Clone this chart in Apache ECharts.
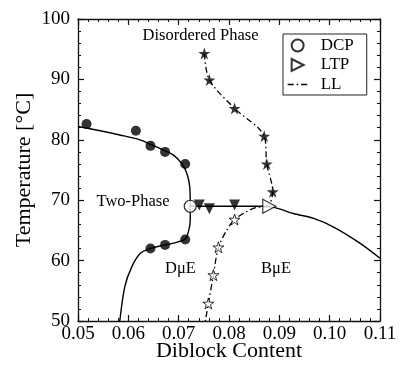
<!DOCTYPE html>
<html><head><meta charset="utf-8">
<script src="https://cdn.jsdelivr.net/npm/echarts@6.0.0/dist/echarts.min.js"></script>
<style>html,body{margin:0;padding:0;background:#fff}#c{width:400px;height:367px}</style>
</head><body><div id="c"></div>
<script>
// ---- data ----
const xTickLabels = ['0.05','0.06','0.07','0.08','0.09','0.10','0.11'];
const yTickLabels = ['50','60','70','80','90','100'];

const circleX = [0.0517, 0.0615, 0.0644, 0.0673, 0.0713, 0.0644, 0.0673, 0.0713];
const circleY = [82.6, 81.5, 79.0, 78.0, 76.0, 62.0, 62.6, 63.5];
const dcpX = [0.0723];
const dcpY = [69.0];
const ltpX = [0.0880];
const ltpY = [69.0];
const triX = [0.0741, 0.0761, 0.0811];
const triY = [69.2, 68.6, 69.2];
const starFilledX = [0.0751, 0.0761, 0.0811, 0.0870, 0.0875, 0.0887];
const starFilledY = [94.3, 89.9, 85.2, 80.6, 76.0, 71.4];
const starOpenX = [0.0811, 0.0779, 0.0769, 0.0759];
const starOpenY = [66.8, 62.2, 57.6, 52.9];

const upperCurveX = [0.0500, 0.0544, 0.0583, 0.0623, 0.0643, 0.0670, 0.0689, 0.0706, 0.0716, 0.0722, 0.0723];
const upperCurveY = [82.2, 81.5, 80.8, 80.0, 79.3, 78.3, 77.5, 76.1, 74.5, 72.2, 69.0];
const lowerCurveX = [0.0723, 0.0723, 0.0720, 0.0713, 0.0690, 0.0673, 0.0644, 0.0624, 0.0607, 0.0593, 0.0583];
const lowerCurveY = [69.0, 66.7, 65.0, 63.6, 62.9, 62.6, 62.0, 61.2, 59.0, 55.7, 50.0];
const hLineX = [0.0723, 0.0880];
const hLineY = [69.0, 69.0];
const rightCurveX = [0.0880, 0.0895, 0.0928, 0.0968, 0.1007, 0.1060, 0.1100];
const rightCurveY = [68.9, 68.7, 67.8, 67.0, 65.6, 62.9, 60.4];
const llUpperX = [0.0751, 0.0761, 0.0811, 0.0870, 0.0875, 0.0887, 0.0880];
const llUpperY = [94.3, 89.9, 85.2, 80.6, 76.0, 71.4, 68.9];
const llLowerX = [0.0880, 0.0855, 0.0835, 0.0811, 0.0796, 0.0779, 0.0769, 0.0759, 0.0753];
const llLowerY = [68.9, 68.8, 68.1, 66.8, 65.1, 62.2, 57.6, 52.9, 50.0];

// ---- chart ----
const pts = (xs, ys) => xs.map((x, i) => [x, ys[i]]);
const FONT = 'Liberation Serif';
const STAR = 'path://M50 0L61.2 34.5L97.6 34.5L68.2 55.9L79.4 90.5L50 69.1L20.6 90.5L31.8 55.9L2.4 34.5L38.8 34.5Z';
const TRI_RIGHT = 'path://M0 0L10 5L0 10Z';
const DASHDOT = [6, 3, 1.5, 3];

const chart = echarts.init(document.getElementById('c'), null, {renderer: 'canvas'});

function xAxisCfg(pos, showLabel) {
  return {
    type: 'value', position: pos, min: 0.05, max: 0.11, interval: 0.01,
    axisLine: {show: true, lineStyle: {color: '#111', width: 1.3}},
    axisTick: {show: true, inside: true, length: 6, lineStyle: {color: '#111', width: 1.2}},
    minorTick: {show: true, splitNumber: 5, length: 3, lineStyle: {color: '#111', width: 1}},
    splitLine: {show: false},
    axisLabel: {show: showLabel, margin: 4, color: '#000', fontFamily: FONT, fontSize: 19,
      formatter: (v) => { const i = Math.round((v - 0.05) / 0.01); return xTickLabels[i] || ''; }}
  };
}
function yAxisCfg(pos, showLabel) {
  return {
    type: 'value', position: pos, min: 50, max: 100, interval: 10,
    axisLine: {show: true, lineStyle: {color: '#111', width: 1.3}},
    axisTick: {show: true, inside: true, length: 6, lineStyle: {color: '#111', width: 1.2}},
    minorTick: {show: true, splitNumber: 5, length: 3, lineStyle: {color: '#111', width: 1}},
    splitLine: {show: false},
    axisLabel: {show: showLabel, margin: 8, color: '#000', fontFamily: FONT, fontSize: 19,
      formatter: (v) => { const i = Math.round((v - 50) / 10); return yTickLabels[i] || ''; }}
  };
}

const xb = xAxisCfg('bottom', true);
xb.name = 'Diblock Content'; xb.nameLocation = 'middle'; xb.nameGap = 19; xb.nameMoveOverlap = false;
xb.nameTextStyle = {fontFamily: FONT, fontSize: 22, color: '#000'};
const yl = yAxisCfg('left', true);
yl.name = 'Temperature [°C]'; yl.nameLocation = 'middle'; yl.nameGap = 43; yl.nameMoveOverlap = false;
yl.nameTextStyle = {fontFamily: FONT, fontSize: 22, color: '#000'};

const solid = {color: '#000', width: 1.4, type: 'solid'};
const dd = {color: '#000', width: 1.3, type: DASHDOT};

chart.setOption({
  animation: false,
  backgroundColor: '#fff',
  grid: {left: 78, top: 19, right: 20, bottom: 46, containLabel: false, outerBoundsMode: 'none'},
  xAxis: [xb, xAxisCfg('top', false)],
  yAxis: [yl, yAxisCfg('right', false)],
  legend: {
    orient: 'vertical', left: 283, top: 34,
    data: [
      {name: 'DCP'},
      {name: 'LTP'},
      {name: 'LL', itemStyle: {color: 'rgba(0,0,0,0)', borderColor: 'rgba(0,0,0,0)', borderWidth: 0}, lineStyle: {type: DASHDOT, width: 1.3, color: '#000'}}
    ],
    itemWidth: 20, itemHeight: 12, itemGap: 2.5,
    padding: [3, 13, 2, 4],
    borderColor: '#222', borderWidth: 1, backgroundColor: '#fff',
    textStyle: {fontFamily: FONT, fontSize: 17, color: '#000', padding: [0, 0, 0, 8]},
    selectedMode: false
  },
  graphic: [
    {type: 'text', x: 200.5, y: 36, style: {text: 'Disordered Phase', font: '16.5px "Liberation Serif"', fill: '#000', textAlign: 'center', textVerticalAlign: 'middle'}},
    {type: 'text', x: 133, y: 202, style: {text: 'Two-Phase', font: '16.5px "Liberation Serif"', fill: '#000', textAlign: 'center', textVerticalAlign: 'middle'}},
    {type: 'text', x: 180.5, y: 268.7, style: {text: 'DμE', font: '16.5px "Liberation Serif"', fill: '#000', textAlign: 'center', textVerticalAlign: 'middle'}},
    {type: 'text', x: 276, y: 268.7, style: {text: 'BμE', font: '16.5px "Liberation Serif"', fill: '#000', textAlign: 'center', textVerticalAlign: 'middle'}}
  ],
  series: [
    {type: 'line', name: 'upper', data: pts(upperCurveX, upperCurveY), smooth: 0.3, symbol: 'none', lineStyle: solid, z: 2},
    {type: 'line', name: 'lower', data: pts(lowerCurveX, lowerCurveY), smooth: 0.3, symbol: 'none', lineStyle: solid, z: 2},
    {type: 'line', name: 'hline', data: pts(hLineX, hLineY), symbol: 'none', lineStyle: solid, z: 2},
    {type: 'line', name: 'right', data: pts(rightCurveX, rightCurveY), smooth: 0.3, symbol: 'none', lineStyle: solid, z: 2},
    {type: 'line', name: 'LL', data: pts(llUpperX, llUpperY), smooth: 0.3, symbol: 'none', lineStyle: dd, itemStyle: {color: '#000'}, z: 2},
    {type: 'line', name: 'LL', data: pts(llLowerX, llLowerY), smooth: 0.3, symbol: 'none', lineStyle: dd, itemStyle: {color: '#000'}, z: 2},
    {type: 'scatter', name: 'circles', data: pts(circleX, circleY), symbol: 'circle', symbolSize: 10, itemStyle: {color: '#000'}, z: 3},
    {type: 'scatter', name: 'tri', data: pts(triX, triY), symbol: 'triangle', symbolRotate: 180, symbolSize: 11, itemStyle: {color: '#000'}, z: 3},
    {type: 'scatter', name: 'starsF', data: pts(starFilledX, starFilledY), symbol: STAR, symbolSize: 12, itemStyle: {color: '#000'}, z: 3},
    {type: 'scatter', name: 'starsO', data: pts(starOpenX, starOpenY), symbol: STAR, symbolSize: 11, itemStyle: {color: '#fff', borderColor: '#000', borderWidth: 1}, z: 3},
    {type: 'scatter', name: 'DCP', data: pts(dcpX, dcpY), symbol: 'circle', symbolSize: 12, itemStyle: {color: '#fff', borderColor: '#000', borderWidth: 1.2}, z: 4},
    {type: 'scatter', name: 'LTP', data: pts(ltpX, ltpY), symbol: TRI_RIGHT, symbolSize: [13, 14], itemStyle: {color: '#fff', borderColor: '#000', borderWidth: 1.2}, z: 4}
  ]
});
</script>
</body></html>
